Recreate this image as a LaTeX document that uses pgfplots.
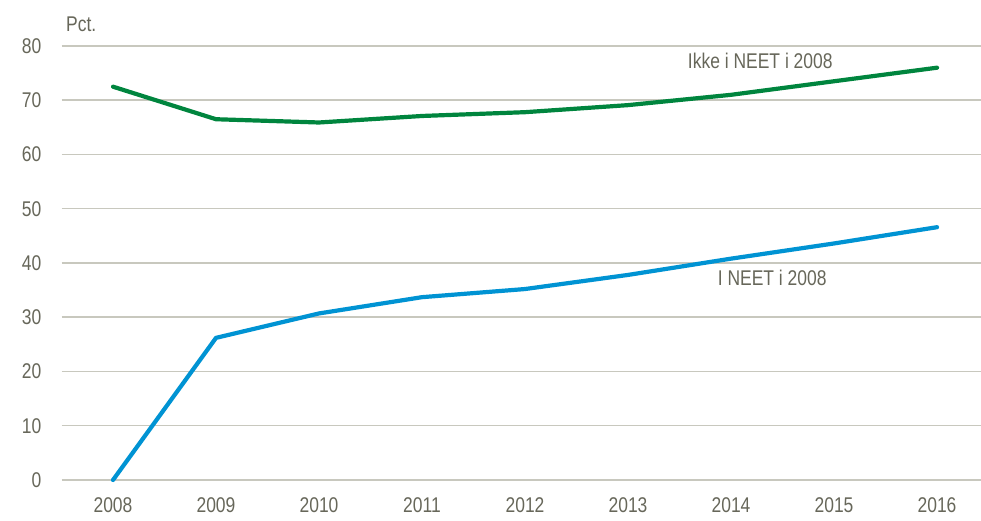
\documentclass[border=0pt]{standalone}
\usepackage{pgfplots}
\pgfplotsset{compat=1.18}
\usepackage{fontspec}
\setmainfont{Liberation Sans}[FakeStretch=0.82]
\definecolor{txt}{HTML}{67675A}
\definecolor{gridc}{HTML}{C8C8BE}
\definecolor{lgreen}{HTML}{00853E}
\definecolor{lblue}{HTML}{0093D3}
\begin{document}
\begin{tikzpicture}
\begin{axis}[
  scale only axis, width=919.5pt, height=434pt,
  xmin=-0.5, xmax=8.427, ymin=0, ymax=80,
  axis line style={draw=none},
  ytick={0,10,...,80}, xtick={0,...,8},
  xticklabels={2008,2009,2010,2011,2012,2013,2014,2015,2016},
  ymajorgrids, grid style={color=gridc, line width=1.5pt},
  major tick length=0pt,
  /pgf/number format/assume math mode=true,
  tick label style={font=\fontsize{21.3}{24}\selectfont, text=txt, inner sep=0pt},
  yticklabel style={anchor=east, xshift=-20pt},
  xticklabel style={anchor=north, yshift=-17pt},
  clip=false,
]
\addplot[lgreen, line width=4.2pt, line cap=round, line join=round] coordinates {
(0,72.5) (1,66.5) (2,65.9) (3,67.1) (4,67.8) (5,69.1) (6,71.0) (7,73.5) (8,76.0)};
\addplot[lblue, line width=4.2pt, line cap=round, line join=round] coordinates {
(0,0) (1,26.2) (2,30.7) (3,33.7) (4,35.2) (5,37.8) (6,40.8) (7,43.6) (8,46.6)};
\node[anchor=base west, inner sep=0pt, text=txt, font=\fontsize{21.3}{24}\selectfont] at (axis cs:5.58,75.9) {Ikke i NEET i 2008};
\node[anchor=base west, inner sep=0pt, text=txt, font=\fontsize{21.3}{24}\selectfont] at (axis cs:5.87,35.8) {I NEET i 2008};
\node[anchor=base west, inner sep=0pt, text=txt, font=\fontsize{21.3}{24}\selectfont] at ([shift={(4.5pt,14pt)}]rel axis cs:0,1) {Pct.};
\end{axis}
\pgfresetboundingbox
\path ([shift={(-61.5pt,-41pt)}]current axis.south west) rectangle ([shift={(0pt,46pt)}]current axis.north east);
\end{tikzpicture}
\end{document}
